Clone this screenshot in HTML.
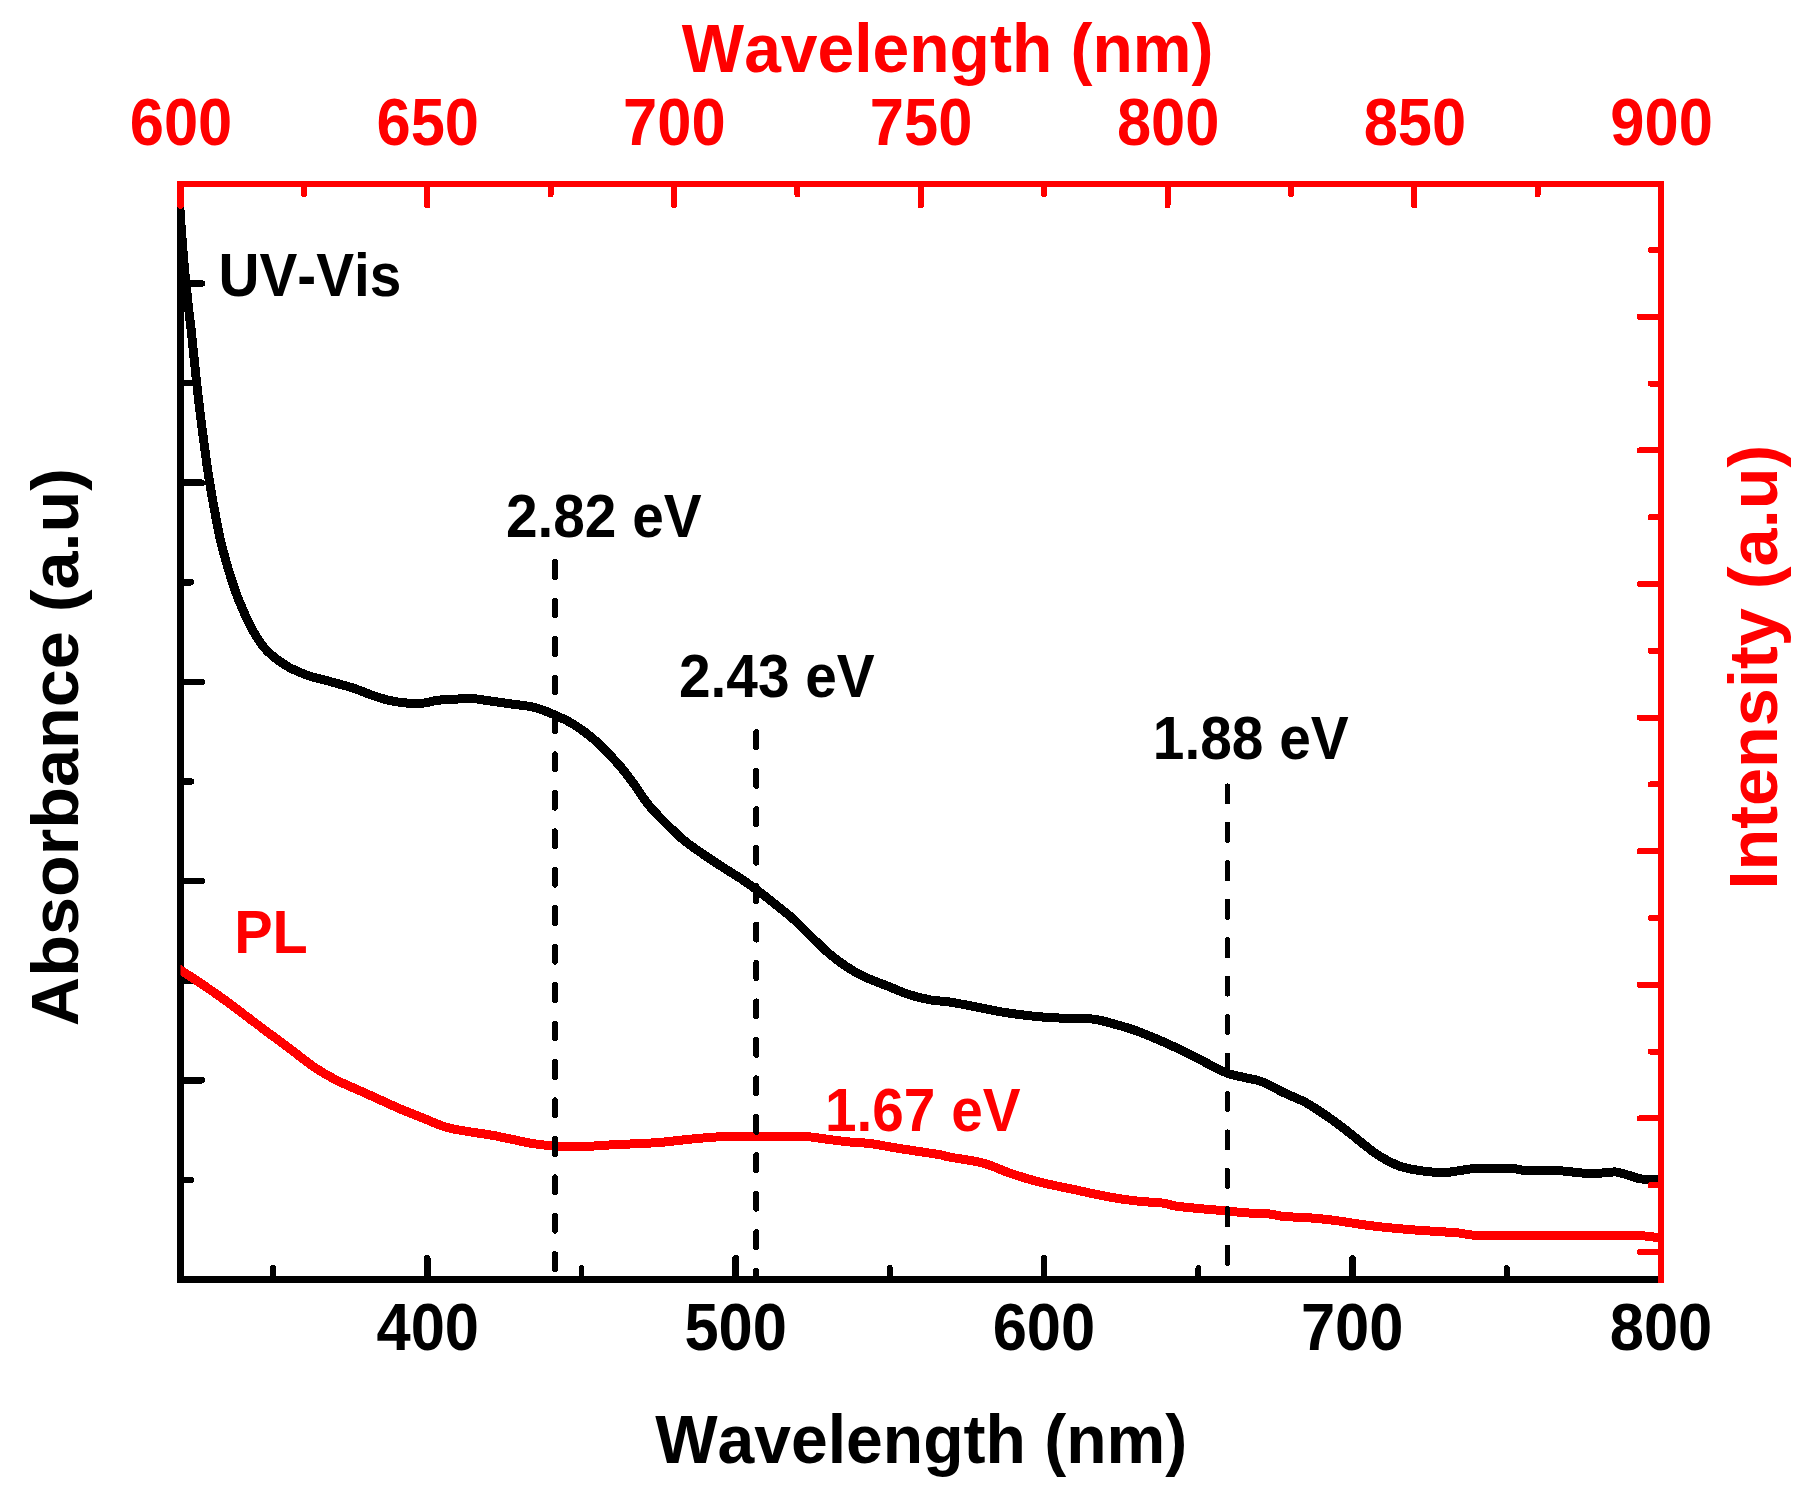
<!DOCTYPE html>
<html lang="en"><head><meta charset="utf-8"><title>UV-Vis and PL spectra</title>
<style>
html,body{margin:0;padding:0;background:#fff;}
body{width:1814px;height:1492px;overflow:hidden;}
svg{display:block;}
text{font-family:"Liberation Sans",sans-serif;font-weight:bold;font-kerning:none;}
</style></head><body>
<svg width="1814" height="1492" viewBox="0 0 1814 1492">
<rect width="1814" height="1492" fill="#fff"/>
<g id="black-axes" shape-rendering="crispEdges">
<line x1="180.50" y1="181.00" x2="180.50" y2="1283.00" stroke="#000000" stroke-width="7.00" stroke-linecap="butt"/>
<line x1="177.00" y1="1279.50" x2="1661.00" y2="1279.50" stroke="#000000" stroke-width="7.00" stroke-linecap="butt"/>
<line x1="180.50" y1="1179.90" x2="190.90" y2="1179.90" stroke="#000000" stroke-width="6.50" stroke-linecap="round"/>
<line x1="180.50" y1="1080.30" x2="201.90" y2="1080.30" stroke="#000000" stroke-width="6.50" stroke-linecap="round"/>
<line x1="180.50" y1="980.70" x2="190.90" y2="980.70" stroke="#000000" stroke-width="6.50" stroke-linecap="round"/>
<line x1="180.50" y1="881.10" x2="201.90" y2="881.10" stroke="#000000" stroke-width="6.50" stroke-linecap="round"/>
<line x1="180.50" y1="781.50" x2="190.90" y2="781.50" stroke="#000000" stroke-width="6.50" stroke-linecap="round"/>
<line x1="180.50" y1="681.90" x2="201.90" y2="681.90" stroke="#000000" stroke-width="6.50" stroke-linecap="round"/>
<line x1="180.50" y1="582.30" x2="190.90" y2="582.30" stroke="#000000" stroke-width="6.50" stroke-linecap="round"/>
<line x1="180.50" y1="482.70" x2="201.90" y2="482.70" stroke="#000000" stroke-width="6.50" stroke-linecap="round"/>
<line x1="180.50" y1="383.10" x2="190.90" y2="383.10" stroke="#000000" stroke-width="6.50" stroke-linecap="round"/>
<line x1="180.50" y1="283.50" x2="201.90" y2="283.50" stroke="#000000" stroke-width="6.50" stroke-linecap="round"/>
<line x1="273.03" y1="1279.50" x2="273.03" y2="1268.00" stroke="#000000" stroke-width="5.80" stroke-linecap="round"/>
<line x1="427.25" y1="1279.50" x2="427.25" y2="1258.30" stroke="#000000" stroke-width="6.60" stroke-linecap="round"/>
<line x1="581.47" y1="1279.50" x2="581.47" y2="1268.00" stroke="#000000" stroke-width="5.80" stroke-linecap="round"/>
<line x1="735.69" y1="1279.50" x2="735.69" y2="1258.30" stroke="#000000" stroke-width="6.60" stroke-linecap="round"/>
<line x1="889.91" y1="1279.50" x2="889.91" y2="1268.00" stroke="#000000" stroke-width="5.80" stroke-linecap="round"/>
<line x1="1044.12" y1="1279.50" x2="1044.12" y2="1258.30" stroke="#000000" stroke-width="6.60" stroke-linecap="round"/>
<line x1="1198.34" y1="1279.50" x2="1198.34" y2="1268.00" stroke="#000000" stroke-width="5.80" stroke-linecap="round"/>
<line x1="1352.56" y1="1279.50" x2="1352.56" y2="1258.30" stroke="#000000" stroke-width="6.60" stroke-linecap="round"/>
<line x1="1506.78" y1="1279.50" x2="1506.78" y2="1268.00" stroke="#000000" stroke-width="5.80" stroke-linecap="round"/>
</g>
<defs><clipPath id="frame"><rect x="177.00" y="184.00" width="1484.00" height="1095.50"/></clipPath>
<clipPath id="frame2"><rect x="180.50" y="184.00" width="1480.50" height="1095.50"/></clipPath></defs>
<g id="curves" fill="none" stroke-linejoin="round" stroke-linecap="butt" shape-rendering="crispEdges">
<path d="M177.6 170.0 C178.0 176.7 179.2 197.2 180.0 210.0 C180.8 222.8 181.8 235.3 182.7 247.0 C183.6 258.7 184.5 269.5 185.6 280.4 C186.7 291.3 188.1 303.7 189.1 312.6 C190.1 321.5 190.4 322.8 191.6 334.0 C192.8 345.2 195.1 368.7 196.3 379.6 C197.5 390.6 197.8 393.0 198.6 399.7 C199.4 406.4 199.9 411.3 201.0 420.0 C202.1 428.7 203.8 441.5 205.2 452.0 C206.6 462.5 208.1 473.1 209.7 482.8 C211.2 492.5 212.8 500.9 214.5 510.0 C216.2 519.1 218.0 529.0 219.8 537.3 C221.7 545.6 223.6 552.9 225.6 560.0 C227.6 567.1 230.0 574.6 231.7 580.0 C233.4 585.4 234.4 588.4 235.9 592.6 C237.4 596.8 239.2 601.1 240.9 605.1 C242.6 609.1 244.2 613.0 246.0 616.9 C247.8 620.8 249.9 625.0 251.8 628.6 C253.8 632.2 255.6 635.5 257.7 638.7 C259.8 641.9 262.0 645.1 264.4 647.9 C266.8 650.7 269.4 653.1 272.0 655.4 C274.6 657.7 277.4 659.7 280.3 661.7 C283.2 663.7 286.4 665.9 289.6 667.6 C292.8 669.4 296.1 670.7 299.6 672.2 C303.1 673.7 306.3 675.1 310.5 676.4 C314.7 677.7 320.3 678.9 324.8 680.1 C329.3 681.3 333.0 682.3 337.3 683.5 C341.6 684.7 346.5 686.0 350.7 687.3 C354.9 688.6 359.1 690.2 362.5 691.5 C365.9 692.8 366.7 693.3 371.1 694.8 C375.5 696.3 382.9 698.9 388.8 700.3 C394.7 701.7 400.5 702.5 406.4 703.0 C412.3 703.5 418.9 703.5 424.0 703.0 C429.1 702.5 432.2 700.9 437.3 700.3 C442.4 699.7 449.0 699.5 454.9 699.2 C460.8 698.9 466.7 698.3 472.6 698.6 C478.5 698.9 483.6 700.1 490.2 701.0 C496.8 701.9 504.9 703.0 512.3 704.1 C519.6 705.2 527.3 705.6 534.3 707.4 C541.3 709.2 547.5 711.8 554.1 714.7 C560.7 717.6 567.0 720.2 574.0 724.6 C581.0 729.0 588.7 734.6 596.0 741.1 C603.3 747.6 611.6 756.7 617.8 763.6 C624.0 770.5 628.0 775.9 633.1 782.8 C638.2 789.7 643.0 798.1 648.5 804.9 C654.0 811.7 660.3 817.7 666.2 823.6 C672.1 829.5 677.6 835.1 683.8 840.2 C690.0 845.4 697.0 849.9 703.6 854.5 C710.2 859.1 717.2 863.7 723.5 867.7 C729.8 871.8 735.6 875.1 741.1 878.8 C746.6 882.5 750.7 885.4 756.6 889.8 C762.5 894.2 770.2 900.2 776.4 905.2 C782.6 910.2 788.1 914.3 794.0 919.6 C799.9 924.9 805.8 931.5 811.7 937.2 C817.6 942.9 823.4 948.7 829.3 953.7 C835.2 958.7 841.1 963.1 847.0 967.0 C852.9 970.9 858.0 973.8 864.6 976.9 C871.2 980.0 879.4 982.8 886.7 985.7 C894.1 988.6 901.4 992.1 908.7 994.5 C916.1 996.9 924.2 998.8 930.8 1000.0 C937.4 1001.2 941.0 1000.7 948.4 1001.8 C955.8 1002.9 966.0 1005.0 974.9 1006.7 C983.8 1008.4 993.8 1010.6 1002.0 1012.0 C1010.2 1013.4 1016.7 1014.2 1024.1 1015.1 C1031.5 1016.0 1038.8 1016.8 1046.2 1017.3 C1053.6 1017.8 1062.2 1018.2 1068.2 1018.4 C1074.2 1018.6 1077.7 1018.5 1082.0 1018.6 C1086.3 1018.7 1090.5 1018.8 1094.0 1019.2 C1097.5 1019.6 1100.0 1020.3 1103.0 1021.0 C1106.0 1021.7 1107.1 1022.0 1112.3 1023.5 C1117.5 1025.0 1127.1 1027.5 1134.4 1030.1 C1141.8 1032.7 1149.1 1035.8 1156.4 1038.9 C1163.8 1042.0 1171.2 1045.3 1178.5 1048.8 C1185.8 1052.3 1192.4 1055.9 1200.5 1059.9 C1208.6 1064.0 1219.7 1070.2 1227.0 1073.1 C1234.3 1076.0 1238.7 1076.0 1244.6 1077.5 C1250.5 1079.0 1255.7 1079.3 1262.3 1081.9 C1268.9 1084.5 1276.9 1089.4 1284.3 1092.9 C1291.7 1096.4 1299.1 1098.9 1306.4 1102.9 C1313.8 1107.0 1321.1 1112.1 1328.4 1117.2 C1335.8 1122.3 1345.3 1129.7 1350.5 1133.7 C1355.7 1137.7 1354.9 1137.5 1359.8 1141.3 C1364.7 1145.0 1373.1 1152.1 1379.7 1156.2 C1386.3 1160.3 1392.9 1163.7 1399.5 1166.1 C1406.1 1168.5 1412.1 1169.4 1419.4 1170.5 C1426.7 1171.6 1436.6 1172.6 1443.2 1172.6 C1449.8 1172.6 1453.8 1171.4 1459.1 1170.7 C1464.4 1170.0 1468.3 1168.9 1474.9 1168.5 C1481.5 1168.1 1492.2 1168.1 1498.8 1168.1 C1505.4 1168.1 1510.0 1168.3 1514.6 1168.7 C1519.2 1169.1 1519.2 1170.2 1526.5 1170.5 C1533.8 1170.8 1549.0 1170.3 1558.3 1170.7 C1567.6 1171.1 1574.8 1172.6 1582.1 1173.0 C1589.4 1173.4 1596.4 1173.2 1602.0 1173.0 C1607.6 1172.8 1611.5 1171.7 1615.8 1172.0 C1620.1 1172.3 1623.4 1173.8 1627.7 1175.0 C1632.0 1176.2 1636.4 1178.3 1641.6 1179.0 C1646.8 1179.7 1654.3 1179.0 1659.0 1179.0 C1663.7 1179.0 1668.2 1179.0 1670.0 1179.0" stroke="#000000" stroke-width="9" clip-path="url(#frame)"/>
<path d="M165.4 960.1 C167.9 961.8 174.3 966.0 180.6 970.1 C186.9 974.2 195.7 979.9 203.1 984.9 C210.5 989.9 217.8 995.0 225.1 1000.3 C232.4 1005.6 239.8 1011.4 247.2 1016.9 C254.5 1022.4 261.8 1027.9 269.2 1033.4 C276.6 1038.9 283.9 1044.4 291.3 1049.9 C298.7 1055.4 306.0 1061.5 313.3 1066.5 C320.6 1071.5 328.0 1075.9 335.4 1079.7 C342.8 1083.5 350.0 1086.3 357.4 1089.6 C364.8 1092.9 372.1 1096.3 379.5 1099.6 C386.9 1102.9 394.1 1106.4 401.5 1109.5 C408.9 1112.6 416.2 1115.4 423.6 1118.3 C431.0 1121.2 438.2 1124.9 445.6 1127.1 C453.0 1129.3 460.4 1130.2 467.7 1131.5 C475.0 1132.8 482.3 1133.5 489.7 1134.8 C497.1 1136.1 504.5 1137.8 511.8 1139.3 C519.1 1140.8 526.6 1142.6 533.8 1143.7 C541.0 1144.8 547.1 1145.4 554.8 1145.9 C562.4 1146.4 571.9 1147.0 579.7 1146.9 C587.5 1146.8 593.6 1145.9 601.7 1145.4 C609.8 1144.9 618.6 1144.6 628.2 1144.1 C637.8 1143.6 648.8 1143.3 659.1 1142.5 C669.4 1141.7 680.4 1140.1 689.9 1139.2 C699.4 1138.3 709.0 1137.5 716.4 1137.0 C723.8 1136.5 727.4 1136.4 734.0 1136.4 C740.6 1136.4 748.8 1137.0 756.1 1137.0 C763.5 1137.0 770.0 1136.5 778.1 1136.4 C786.2 1136.3 796.5 1135.9 804.6 1136.4 C812.7 1136.9 819.4 1138.3 826.7 1139.2 C834.1 1140.1 841.4 1141.2 848.7 1141.9 C856.1 1142.6 863.4 1142.7 870.8 1143.6 C878.1 1144.5 885.4 1146.2 892.8 1147.4 C900.1 1148.6 907.0 1149.7 914.9 1150.9 C922.8 1152.1 934.3 1153.7 940.0 1154.7 C945.7 1155.7 941.9 1155.6 949.1 1157.0 C956.3 1158.4 972.6 1160.3 983.1 1163.1 C993.6 1165.9 1002.5 1170.8 1012.2 1174.0 C1021.9 1177.2 1030.8 1179.9 1041.3 1182.5 C1051.8 1185.1 1063.9 1187.4 1075.2 1189.8 C1086.5 1192.2 1098.7 1195.1 1109.2 1197.0 C1119.7 1198.9 1129.4 1200.2 1138.3 1201.2 C1147.2 1202.2 1156.1 1202.2 1162.6 1203.1 C1169.1 1203.9 1169.8 1205.3 1177.1 1206.3 C1184.4 1207.3 1197.9 1208.4 1206.2 1209.2 C1214.5 1210.0 1220.6 1210.3 1227.1 1210.9 C1233.6 1211.5 1238.0 1212.3 1245.0 1212.8 C1252.0 1213.3 1262.8 1213.4 1269.3 1214.0 C1275.8 1214.6 1277.3 1215.9 1283.8 1216.5 C1290.3 1217.1 1300.0 1217.1 1308.1 1217.7 C1316.2 1218.3 1322.1 1218.8 1332.4 1220.1 C1342.7 1221.4 1357.0 1224.0 1369.8 1225.6 C1382.6 1227.2 1397.9 1228.6 1409.5 1229.6 C1421.1 1230.6 1430.9 1231.0 1439.2 1231.6 C1447.5 1232.2 1452.5 1232.3 1459.1 1233.0 C1465.7 1233.7 1465.7 1235.1 1478.9 1235.5 C1492.1 1235.9 1512.7 1235.5 1538.5 1235.5 C1564.3 1235.5 1613.6 1235.1 1633.7 1235.5 C1653.8 1235.9 1653.0 1237.3 1659.0 1237.9 C1665.0 1238.5 1668.2 1238.8 1670.0 1239.0" stroke="#ff0000" stroke-width="9" clip-path="url(#frame2)"/>
</g>
<g id="markers" shape-rendering="crispEdges">
<line x1="555.00" y1="562.00" x2="555.00" y2="1279.50" stroke="#000000" stroke-width="5.80" stroke-linecap="round" stroke-dasharray="15.20 23.25"/>
<line x1="756.20" y1="732.20" x2="756.20" y2="1279.50" stroke="#000000" stroke-width="5.80" stroke-linecap="round" stroke-dasharray="15.20 23.25"/>
<line x1="1227.50" y1="786.30" x2="1227.50" y2="1279.50" stroke="#000000" stroke-width="5.80" stroke-linecap="round" stroke-dasharray="15.20 23.25"/>
</g>
<g id="red-axes" shape-rendering="crispEdges">
<line x1="177.00" y1="184.00" x2="1664.00" y2="184.00" stroke="#ff0000" stroke-width="6.00" stroke-linecap="butt"/>
<line x1="1661.00" y1="184.00" x2="1661.00" y2="1283.00" stroke="#ff0000" stroke-width="6.00" stroke-linecap="butt"/>
<line x1="180.50" y1="184.00" x2="180.50" y2="205.40" stroke="#ff0000" stroke-width="7.00" stroke-linecap="round"/>
<line x1="303.88" y1="184.00" x2="303.88" y2="194.40" stroke="#ff0000" stroke-width="6.00" stroke-linecap="round"/>
<line x1="427.25" y1="184.00" x2="427.25" y2="205.40" stroke="#ff0000" stroke-width="6.00" stroke-linecap="round"/>
<line x1="550.62" y1="184.00" x2="550.62" y2="194.40" stroke="#ff0000" stroke-width="6.00" stroke-linecap="round"/>
<line x1="674.00" y1="184.00" x2="674.00" y2="205.40" stroke="#ff0000" stroke-width="6.00" stroke-linecap="round"/>
<line x1="797.38" y1="184.00" x2="797.38" y2="194.40" stroke="#ff0000" stroke-width="6.00" stroke-linecap="round"/>
<line x1="920.75" y1="184.00" x2="920.75" y2="205.40" stroke="#ff0000" stroke-width="6.00" stroke-linecap="round"/>
<line x1="1044.12" y1="184.00" x2="1044.12" y2="194.40" stroke="#ff0000" stroke-width="6.00" stroke-linecap="round"/>
<line x1="1167.50" y1="184.00" x2="1167.50" y2="205.40" stroke="#ff0000" stroke-width="6.00" stroke-linecap="round"/>
<line x1="1290.88" y1="184.00" x2="1290.88" y2="194.40" stroke="#ff0000" stroke-width="6.00" stroke-linecap="round"/>
<line x1="1414.25" y1="184.00" x2="1414.25" y2="205.40" stroke="#ff0000" stroke-width="6.00" stroke-linecap="round"/>
<line x1="1537.62" y1="184.00" x2="1537.62" y2="194.40" stroke="#ff0000" stroke-width="6.00" stroke-linecap="round"/>
<line x1="1661.00" y1="184.00" x2="1661.00" y2="205.40" stroke="#ff0000" stroke-width="6.00" stroke-linecap="round"/>
<line x1="1661.00" y1="1252.00" x2="1639.60" y2="1252.00" stroke="#ff0000" stroke-width="6.00" stroke-linecap="round"/>
<line x1="1661.00" y1="1185.20" x2="1650.60" y2="1185.20" stroke="#ff0000" stroke-width="6.00" stroke-linecap="round"/>
<line x1="1661.00" y1="1118.40" x2="1639.60" y2="1118.40" stroke="#ff0000" stroke-width="6.00" stroke-linecap="round"/>
<line x1="1661.00" y1="1051.60" x2="1650.60" y2="1051.60" stroke="#ff0000" stroke-width="6.00" stroke-linecap="round"/>
<line x1="1661.00" y1="984.80" x2="1639.60" y2="984.80" stroke="#ff0000" stroke-width="6.00" stroke-linecap="round"/>
<line x1="1661.00" y1="918.00" x2="1650.60" y2="918.00" stroke="#ff0000" stroke-width="6.00" stroke-linecap="round"/>
<line x1="1661.00" y1="851.20" x2="1639.60" y2="851.20" stroke="#ff0000" stroke-width="6.00" stroke-linecap="round"/>
<line x1="1661.00" y1="784.40" x2="1650.60" y2="784.40" stroke="#ff0000" stroke-width="6.00" stroke-linecap="round"/>
<line x1="1661.00" y1="717.60" x2="1639.60" y2="717.60" stroke="#ff0000" stroke-width="6.00" stroke-linecap="round"/>
<line x1="1661.00" y1="650.80" x2="1650.60" y2="650.80" stroke="#ff0000" stroke-width="6.00" stroke-linecap="round"/>
<line x1="1661.00" y1="584.00" x2="1639.60" y2="584.00" stroke="#ff0000" stroke-width="6.00" stroke-linecap="round"/>
<line x1="1661.00" y1="517.20" x2="1650.60" y2="517.20" stroke="#ff0000" stroke-width="6.00" stroke-linecap="round"/>
<line x1="1661.00" y1="450.40" x2="1639.60" y2="450.40" stroke="#ff0000" stroke-width="6.00" stroke-linecap="round"/>
<line x1="1661.00" y1="383.60" x2="1650.60" y2="383.60" stroke="#ff0000" stroke-width="6.00" stroke-linecap="round"/>
<line x1="1661.00" y1="316.80" x2="1639.60" y2="316.80" stroke="#ff0000" stroke-width="6.00" stroke-linecap="round"/>
<line x1="1661.00" y1="250.00" x2="1650.60" y2="250.00" stroke="#ff0000" stroke-width="6.00" stroke-linecap="round"/>
</g>
<g id="labels">
<text transform="translate(129.77 145.31) scale(0.9255 1)" font-size="66.40" fill="#ff0000">600</text>
<text transform="translate(376.52 145.31) scale(0.9255 1)" font-size="66.40" fill="#ff0000">650</text>
<text transform="translate(623.08 145.31) scale(0.9255 1)" font-size="66.40" fill="#ff0000">700</text>
<text transform="translate(869.83 145.31) scale(0.9255 1)" font-size="66.40" fill="#ff0000">750</text>
<text transform="translate(1116.92 145.31) scale(0.9255 1)" font-size="66.40" fill="#ff0000">800</text>
<text transform="translate(1363.67 145.31) scale(0.9255 1)" font-size="66.40" fill="#ff0000">850</text>
<text transform="translate(1610.33 145.31) scale(0.9255 1)" font-size="66.40" fill="#ff0000">900</text>
<text transform="translate(376.48 1350.16) scale(0.9255 1)" font-size="66.40" fill="#000000">400</text>
<text transform="translate(684.44 1350.16) scale(0.9255 1)" font-size="66.40" fill="#000000">500</text>
<text transform="translate(992.70 1350.16) scale(0.9255 1)" font-size="66.40" fill="#000000">600</text>
<text transform="translate(1300.94 1350.16) scale(0.9255 1)" font-size="66.40" fill="#000000">700</text>
<text transform="translate(1609.72 1350.16) scale(0.9255 1)" font-size="66.40" fill="#000000">800</text>
<text transform="translate(681.84 72.42) scale(0.9659 1)" font-size="68.34" fill="#ff0000">Wavelength (nm)</text>
<text transform="translate(655.14 1463.31) scale(0.9729 1)" font-size="67.91" fill="#000000">Wavelength (nm)</text>
<text transform="translate(78.00 1026.20) rotate(-90) scale(1.0131 1)" font-size="67.48" fill="#000000">Absorbance (a.u)</text>
<text transform="translate(1776.77 889.58) rotate(-90) scale(0.9983 1)" font-size="68.55" fill="#ff0000">Intensity (a.u)</text>
<text transform="translate(218.49 295.71) scale(0.9385 1)" font-size="60.48" fill="#000000">UV-Vis</text>
<text transform="translate(234.15 952.90) scale(0.9461 1)" font-size="60.90" fill="#ff0000">PL</text>
<text transform="translate(505.93 537.40) scale(0.9307 1)" font-size="61.02" fill="#000000">2.82 eV</text>
<text transform="translate(678.93 697.32) scale(0.9331 1)" font-size="60.89" fill="#000000">2.43 eV</text>
<text transform="translate(1152.82 758.50) scale(0.9295 1)" font-size="61.16" fill="#000000">1.88 eV</text>
<text transform="translate(825.03 1130.65) scale(0.9276 1)" font-size="61.16" fill="#ff0000">1.67 eV</text>
</g>
</svg>
</body></html>
